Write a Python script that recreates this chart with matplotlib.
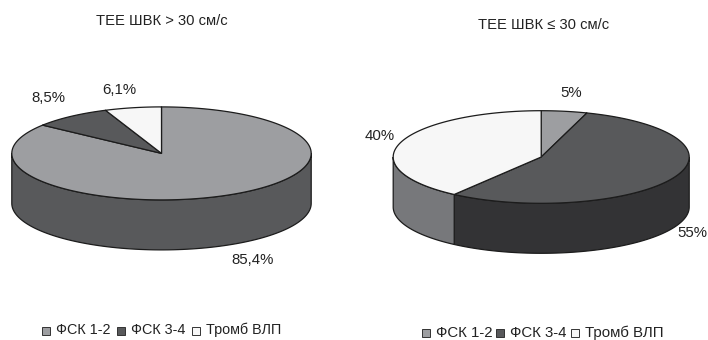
import numpy as np
import matplotlib
matplotlib.use("Agg")
import matplotlib.pyplot as plt
from matplotlib.patches import Polygon, Rectangle

plt.rcParams["font.family"] = ["Liberation Sans", "DejaVu Sans"]

# ── Data ─────────────────────────────────────────────────────────
CATEGORIES = ["ФСК 1-2", "ФСК 3-4", "Тромб ВЛП"]
VALUES_LEFT = [85.4, 8.5, 6.1]
LABELS_LEFT = ["85,4%", "8,5%", "6,1%"]
VALUES_RIGHT = [5, 55, 40]
LABELS_RIGHT = ["5%", "55%", "40%"]
TITLE_LEFT = "ТЕЕ ШВК > 30 см/с"
TITLE_RIGHT = "ТЕЕ ШВК ≤ 30 см/с"

TOP_COLORS = ["#9d9ea1", "#58595b", "#f7f7f7"]
SIDE_LEFT = ["#58595b", "#333335", "#77787b"]
SIDE_RIGHT = ["#77787b", "#333335", "#77787b"]
EDGE = "#1c1c1c"


def ellipse_xy(t, cx, cy, rx, ry):
    # t in degrees, clockwise from 12 o'clock
    r = np.radians(t)
    return cx + rx * np.sin(r), cy - ry * np.cos(r)


def pie3d(ax, values, sides, cx, cy, rx, ry, depth):
    edges = np.cumsum([0] + list(values)) / sum(values) * 360

    # side wall, only the front half is visible
    for i, side in enumerate(sides):
        a, b = max(edges[i], 90), min(edges[i + 1], 270)
        if a >= b:
            continue
        x, y = ellipse_xy(np.linspace(a, b, 100), cx, cy, rx, ry)
        pts = np.r_[np.c_[x, y], np.c_[x, y + depth][::-1]]
        ax.add_patch(Polygon(pts, closed=True, fc=side, ec=EDGE, lw=0.9))

    # top face
    for i, col in enumerate(TOP_COLORS):
        x, y = ellipse_xy(np.linspace(edges[i], edges[i + 1], 200), cx, cy, rx, ry)
        pts = np.r_[[[cx, cy]], np.c_[x, y]]
        ax.add_patch(Polygon(pts, closed=True, fc=col, ec=EDGE, lw=0.9, joinstyle="round"))


def legend(ax, xs, y, text_y, size):
    for x, name, col in zip(xs, CATEGORIES, TOP_COLORS):
        ax.add_patch(Rectangle((x, y - 4), 8, 8, fc=col, ec="#333333", lw=0.7))
        ax.text(x + 14, text_y, name, fontsize=size, ha="left", va="center", color="#222222")


fig = plt.figure(figsize=(7.08, 3.4), dpi=100)
ax = fig.add_axes([0, 0, 1, 1])
ax.set_xlim(0, 708)
ax.set_ylim(340, 0)
ax.axis("off")

pie3d(ax, VALUES_LEFT, SIDE_LEFT, 161.5, 153.4, 149.7, 46.5, 50)
pie3d(ax, VALUES_RIGHT, SIDE_RIGHT, 541.2, 157, 148, 46.3, 50)

ax.text(162, 21, TITLE_LEFT, fontsize=10.6, ha="center", va="center", color="#222222")
ax.text(544, 25, TITLE_RIGHT, fontsize=10.6, ha="center", va="center", color="#222222")

for (x, y), s in zip([(253, 260), (48, 98), (119, 90)], LABELS_LEFT):
    ax.text(x, y, s, fontsize=10.8, ha="center", va="center", color="#222222")
for (x, y), s in zip([(571, 93), (692, 233), (380, 136)], LABELS_RIGHT):
    ax.text(x, y, s, fontsize=10.8, ha="center", va="center", color="#222222")

legend(ax, [42, 117, 192], 331, 330, 10.4)
legend(ax, [422, 496, 571], 333, 333, 10.8)

fig.savefig("out.png", dpi=100)
